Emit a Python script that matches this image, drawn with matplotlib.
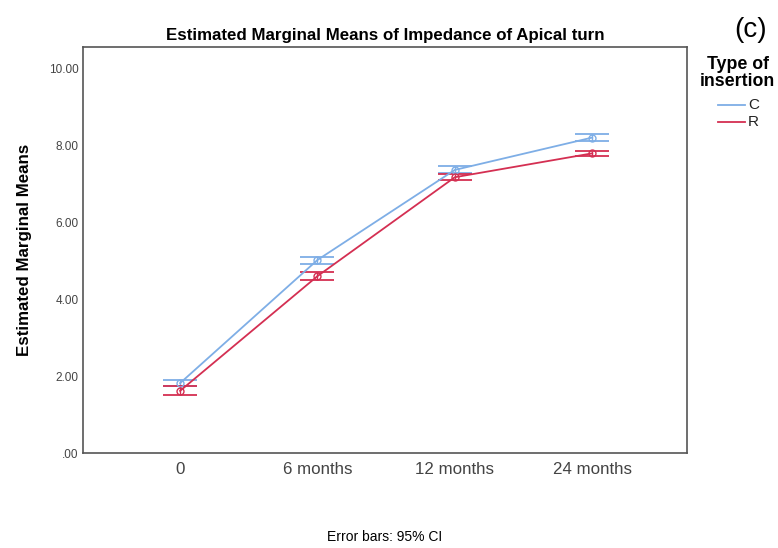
import matplotlib.pyplot as plt
from matplotlib.lines import Line2D
import numpy as np

plt.rcParams['font.family'] = ['Liberation Sans', 'DejaVu Sans']

times = ['0', '6 months', '12 months', '24 months']
c_mean = [1.82, 5.02, 7.36, 8.20]
c_lo = [1.74, 4.92, 7.27, 8.12]
c_hi = [1.91, 5.10, 7.45, 8.28]
r_mean = [1.62, 4.60, 7.17, 7.79]
r_lo = [1.51, 4.50, 7.09, 7.72]
r_hi = [1.74, 4.72, 7.25, 7.86]
groups = ['C', 'R']

blue = '#7eaee6'
red = '#d42f52'

fig = plt.figure(figsize=(7.78, 5.48), dpi=100)
ax = fig.add_axes([0.107, 0.173, 0.776, 0.741])

x = np.arange(len(times))
for m, lo, hi, col in [(c_mean, c_lo, c_hi, blue), (r_mean, r_lo, r_hi, red)]:
    m = np.array(m)
    err = [m - np.array(lo), np.array(hi) - m]
    ax.errorbar(x, m, yerr=err, color=col, lw=1.3, capsize=12, capthick=1.3,
                elinewidth=1.0, marker='o', ms=5, mfc='none', mec=col)

ax.set_xlim(-0.705, 3.69)
ax.set_ylim(0, 10.55)
ax.set_xticks(x)
ax.set_xticklabels(times)
ax.set_yticks([0, 2, 4, 6, 8, 10])
ax.set_yticklabels(['.00', '2.00', '4.00', '6.00', '8.00', '10.00'])
ax.tick_params(length=0, colors='#444444', labelsize=8.5)
ax.tick_params(axis='x', labelsize=12.2, pad=6)
for s in ax.spines.values():
    s.set_color('#555555')
    s.set_linewidth(1.2)

ax.set_ylabel('Estimated Marginal Means', fontsize=12.2, fontweight='bold', labelpad=12)
ax.set_title('Estimated Marginal Means of Impedance of Apical turn', fontsize=12.2,
             fontweight='bold', pad=5)

fig.text(0.965, 0.945, '(c)', fontsize=20, ha='center', va='center')

# legend drawn by hand to keep SPSS-like layout
fig.text(0.948, 0.867, 'Type of\ninsertion', fontsize=12.8, fontweight='bold',
         ha='center', va='center', linespacing=0.95)
for i, (g, col) in enumerate(zip(groups, [blue, red])):
    yy = 1 - (105 + 17 * i) / 548
    fig.add_artist(Line2D([718 / 778, 745 / 778], [yy, yy], color=col, lw=1.3,
                          transform=fig.transFigure))
    fig.text(748 / 778, yy, g, fontsize=11, ha='left', va='center', color='#222222')

fig.text(0.495, 0.02, 'Error bars: 95% CI', fontsize=10, ha='center', va='center')

fig.savefig('out.png', dpi=100)
